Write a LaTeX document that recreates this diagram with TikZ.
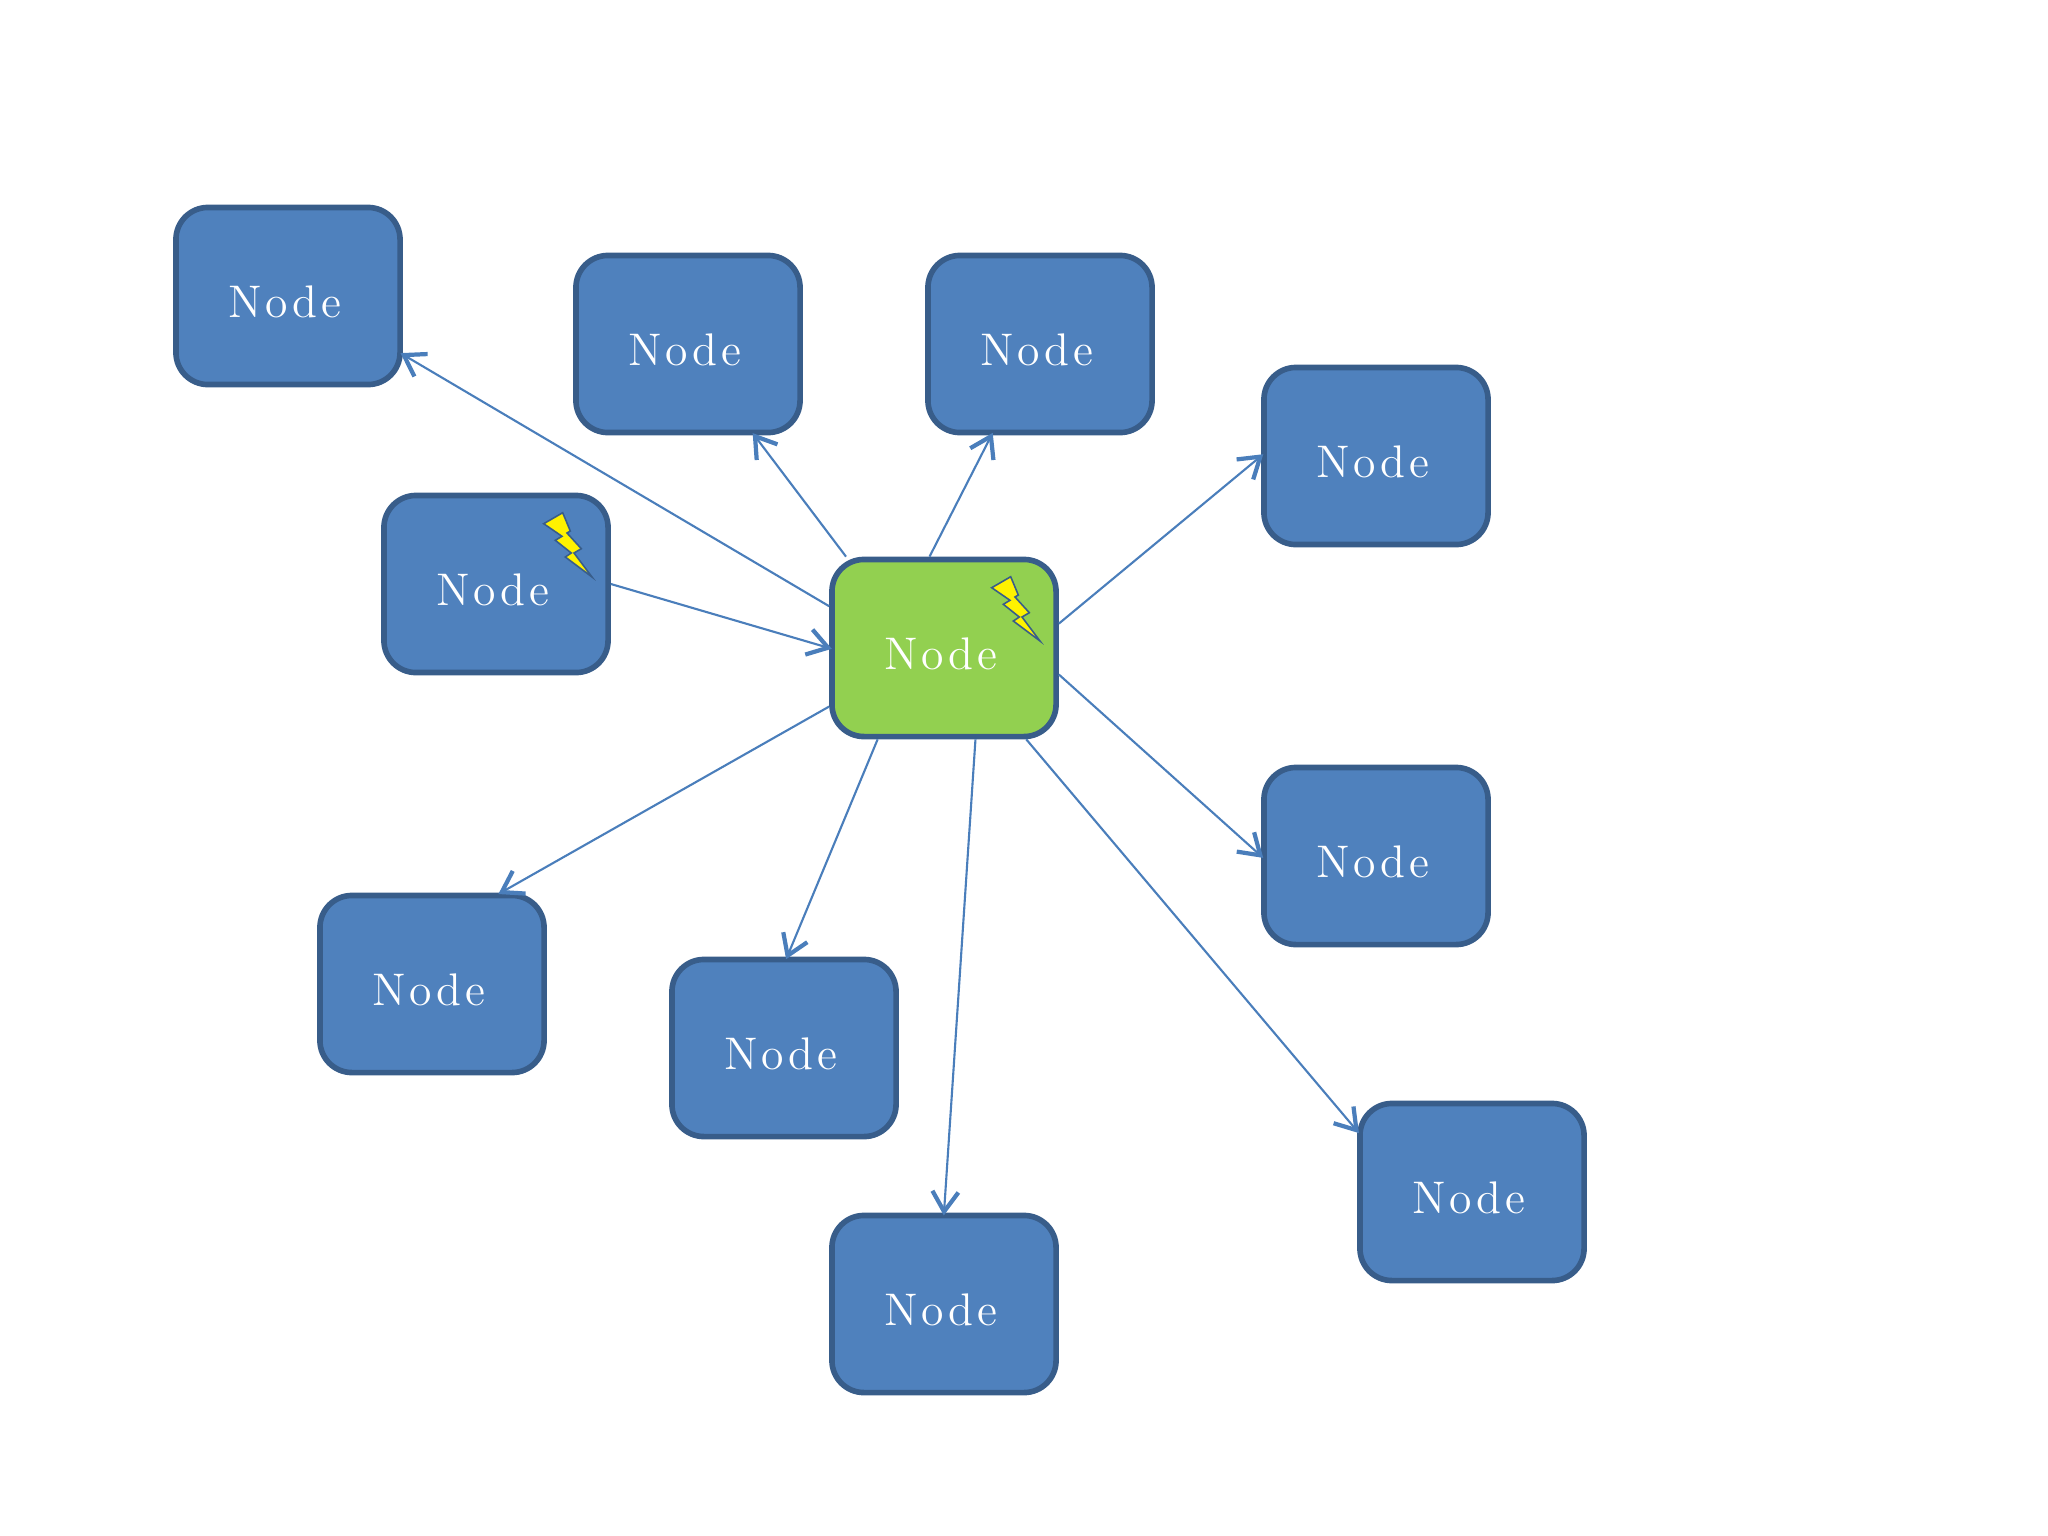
\documentclass[tikz,border=0pt]{standalone}
\usepackage{fontspec}
\usetikzlibrary{arrows.meta,positioning,calc}
\newfontfamily\nodefont[LetterSpace=8]{Latin Modern Roman}
\definecolor{boxblue}{HTML}{4F81BD}
\definecolor{boxline}{HTML}{385D8A}
\definecolor{boxgreen}{HTML}{92D050}
\definecolor{flowblue}{HTML}{4A7EBB}
\newcommand\nodetext{\raisebox{-0.21cm}[0pt][0pt]{Node}\hspace{0.07cm}}
\begin{document}
\begin{tikzpicture}[x=0.01cm,y=-0.01cm,
box/.style={draw=boxline,line width=1.6pt,rounded corners=0.32cm,fill=boxblue,text=white,align=center,minimum width=2.24cm,minimum height=1.77cm,inner sep=0pt,outer sep=0.8pt,font=\nodefont\fontsize{13}{15}\selectfont},
flow/.style={-{Straight Barb[length=2mm,width=2.6mm,line width=1.2pt]},draw=flowblue,line width=0.6pt,shorten >=-0.8pt},
bolt/.style={draw=boxline,fill=yellow,line width=0.45pt,line join=miter}]
\useasboundingbox (0,0) rectangle (2048,1536);
\node[box,fill=boxgreen] (hub) at (944,648) {\nodetext};
\node[box] (a) at (288,296) {\nodetext};
\node[box] (b) at (688,344) {\nodetext};
\node[box] (c) at (1040,344) {\nodetext};
\node[box] (d) at (1376,456) {\nodetext};
\node[box] (e) at (496,584) {\nodetext};
\node[box] (f) at (1376,856) {\nodetext};
\node[box] (g) at (432,984) {\nodetext};
\node[box] (h) at (784,1048) {\nodetext};
\node[box] (i) at (944,1304) {\nodetext};
\node[box] (j) at (1472,1192) {\nodetext};
\foreach \s/\t in {160/a.-27,137/b.-54,99/c.-118,12/d.west,-13/f.west,-48/j.152,-71/i.north,-126/h.88,-153/g.53}\draw[flow] (hub.\s)--(\t);
\draw[flow] (e.east)--(hub.west);
% lightning marks
\foreach \p in {hub,e}
\draw[bolt,shift={(\p.center)}] (47.7,-60.3)--(66.7,-71.3)--(74.3,-53)--(71,-51)--(85.3,-35.3)--(78,-31)--(96,-7)--(69.3,-27)--(75.3,-31)--(59.3,-43.7)--(66,-47.7)--cycle;
\end{tikzpicture}
\end{document}
